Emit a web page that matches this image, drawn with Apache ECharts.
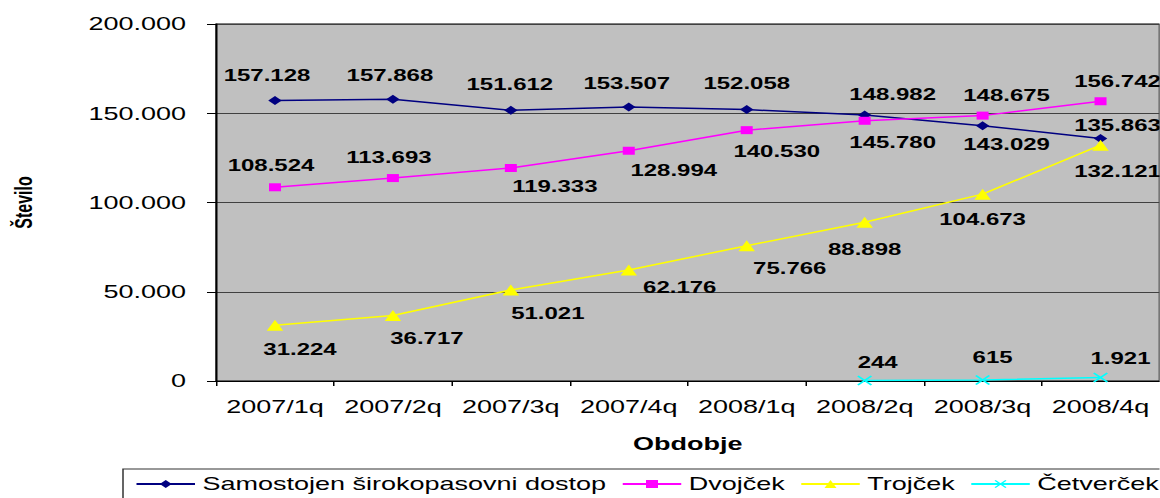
<!DOCTYPE html>
<html>
<head>
<meta charset="utf-8">
<script src="https://cdn.jsdelivr.net/npm/echarts@6/dist/echarts.min.js"></script>
<style>
  html, body { margin: 0; padding: 0; background: #fff; overflow: hidden; }
  /* the original picture is stretched sideways, so draw narrow and stretch */
  #chart { width: 773.333px; height: 498px; transform: scaleX(1.5); transform-origin: 0 0; }
</style>
</head>
<body>
<div id="chart"></div>
<script>
const STRETCH = 1.5;

// // DATA
const periods = ["2007/1q", "2007/2q", "2007/3q", "2007/4q", "2008/1q", "2008/2q", "2008/3q", "2008/4q"];
const samostojen = [157128, 157868, 151612, 153507, 152058, 148982, 143029, 135863];
const dvojcek = [108524, 113693, 119333, 128994, 140530, 145780, 148675, 156742];
const trojcek = [31224, 36717, 51021, 62176, 75766, 88898, 104673, 132121];
const cetvercek = [null, null, null, null, null, 244, 615, 1921];
const series_names = ["Samostojen širokopasovni dostop", "Dvojček", "Trojček", "Četverček"];

// label nudges (picture pixels), the labels were moved by hand in the original
const blue_dx = [-8, -3, -1, -2, 0, 28, 24, 17];
const blue_dy = [-25, -24, -26, -23, -26, -21, 19, -13];
const pink_dx = [-4, -4, 44, 45, 30, 28, 24, 17];
const pink_dy = [-22, -21, 19, 20, 21, 22, -20, -20];
const yellow_dx = [25, 34, 37, 51, 43, 0, 0, 17];
const yellow_dy = [24, 23, 24, 17, 23, 27, 25, 26];
const cyan_dx = [0, 0, 0, 0, 0, 13, 10, 20];
const cyan_dy = [0, 0, 0, 0, 0, -18, -22, -19];

const FONT = "'Liberation Sans', Arial, sans-serif";
const CROSS = 'path://M0,1L1,0L5,4L9,0L10,1L6,5L10,9L9,10L5,6L1,10L0,9L4,5Z';

// 157128 -> "157.128"
function fmt(v) {
  return String(v).replace(/\B(?=(\d{3})+(?!\d))/g, ".");
}

function withLabels(values, dx, dy) {
  return values.map((v, i) => {
    if (v === null) return '-';
    return { value: v, label: { offset: [dx[i] / STRETCH, dy[i]] } };
  });
}

function lineSeries(name, values, dx, dy, color, symbol, size) {
  return {
    name: name,
    type: 'line',
    data: withLabels(values, dx, dy),
    symbol: symbol,
    symbolSize: size,
    lineStyle: { color: color, width: 1.5 },
    itemStyle: { color: color },
    label: {
      show: true, position: 'inside', align: 'center', verticalAlign: 'middle',
      formatter: (p) => fmt(p.value),
      fontFamily: FONT, fontWeight: 'bold', fontSize: 16, color: '#000'
    },
    emphasis: { disabled: true },
    z: 3
  };
}

const chart = echarts.init(document.getElementById('chart'), null, { renderer: 'svg' });

chart.setOption({
  animation: false,
  textStyle: { fontFamily: FONT },
  grid: {
    left: 135.33, right: 0, top: 24, bottom: 117,
    show: true, backgroundColor: '#c0c0c0', borderColor: '#000', borderWidth: 1
  },
  legend: {
    left: 82, top: 469, width: 720,
    itemWidth: 39, itemHeight: 10, itemGap: 10,
    padding: [6, 4, 12, 8],
    borderColor: '#333', borderWidth: 1,
    textStyle: { fontFamily: FONT, fontSize: 18, color: '#000' },
    data: series_names
  },
  xAxis: {
    type: 'category',
    data: periods,
    boundaryGap: true,
    name: 'Obdobje', nameLocation: 'middle', nameGap: 54,
    nameTextStyle: { fontFamily: FONT, fontWeight: 'bold', fontSize: 18, color: '#000' },
    axisLine: { lineStyle: { color: '#000', width: 1 } },
    axisTick: { show: true, interval: 0, length: 5, lineStyle: { color: '#000' } },
    axisLabel: { interval: 0, fontFamily: FONT, fontSize: 18, color: '#000', margin: 17 },
    splitLine: { show: false }
  },
  yAxis: {
    type: 'value',
    min: 0, max: 200000, interval: 50000,
    name: 'Število', nameLocation: 'middle', nameGap: 120, nameRotate: 90,
    nameTextStyle: { fontFamily: FONT, fontWeight: 'bold', fontSize: 16, color: '#000' },
    axisLine: { show: true, lineStyle: { color: '#000', width: 1 } },
    axisTick: { show: true, length: 6, lineStyle: { color: '#000' } },
    axisLabel: { fontFamily: FONT, fontSize: 18, color: '#000', margin: 20, formatter: (v) => fmt(v) },
    splitLine: { show: true, lineStyle: { color: '#404040', width: 1 } }
  },
  series: [
    lineSeries(series_names[0], samostojen, blue_dx, blue_dy, '#000080', 'diamond', 9),
    lineSeries(series_names[1], dvojcek, pink_dx, pink_dy, '#ff00ff', 'rect', 8),
    lineSeries(series_names[2], trojcek, yellow_dx, yellow_dy, '#ffff00', 'triangle', 11),
    lineSeries(series_names[3], cetvercek, cyan_dx, cyan_dy, '#00ffff', CROSS, 10)
  ]
});
</script>
</body>
</html>
